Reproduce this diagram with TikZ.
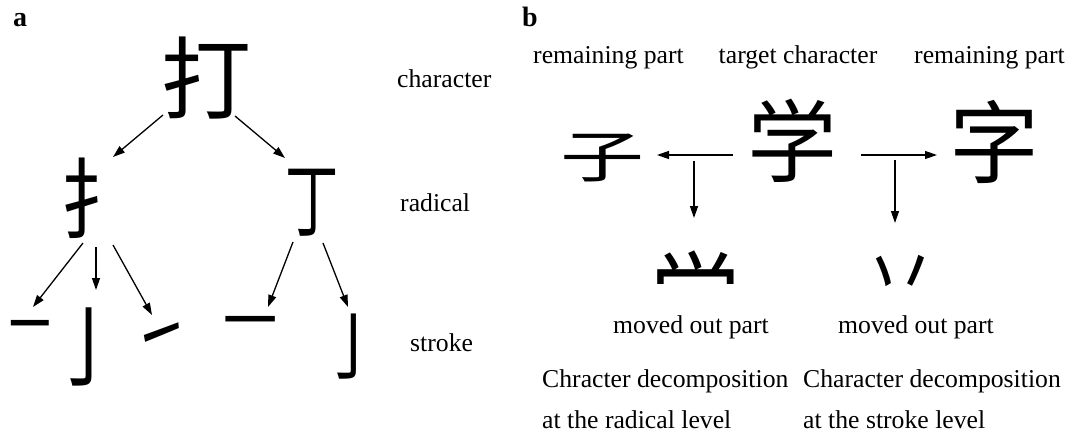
\documentclass[tikz,border=0pt]{standalone}
\usepackage{fontspec}
\usepackage{graphicx}
\setmainfont{Liberation Serif}
\newfontfamily\cjk{Noto Sans CJK SC}
\usetikzlibrary{arrows.meta}
\begin{document}
\begin{tikzpicture}[x=1pt,y=-1pt,
  lab/.style={font=\fontsize{25.7pt}{30pt}\selectfont, inner sep=0pt, anchor=base west},
  panel/.style={font=\bfseries\fontsize{28pt}{32pt}\selectfont, inner sep=0pt, anchor=base west},
  g/.style={inner sep=0pt, font=\cjk\fontsize{#1pt}{#1pt}\selectfont},
  arr/.style={line width=1.3pt, -{Triangle[length=12pt,width=8pt]}},
]
\useasboundingbox (0,0) rectangle (1072,436);
% ---------- panel a ----------
\node[panel] (pa) at (13,27) {a};
\node[g=90] (da) at (206,78) {打};
\node[g=88] (shou) at (98,198) {\scalebox{0.85}[1]{扌}};
\node[g=82] (ding) at (312,203) {\scalebox{0.65}[1]{丁}};
\node[g=90] (s1) at (30,335) {\scalebox{0.46}[0.75]{一}};
\node[g=90] (s2) at (88,347) {\scalebox{0.8}[1]{亅}};
\node[g=62] (s3) at (161,343) {\scalebox{0.9}[1.3]{㇀}};
\node[g=90] (s4) at (250,331) {\scalebox{0.6}[0.75]{一}};
\node[g=75] (s5) at (353,347) {\scalebox{0.85}[1]{亅}};
\node[lab] (lchar) at (397,88) {character};
\node[lab] (lrad) at (400,211) {radical};
\node[lab] (lstr) at (410,351) {stroke};
\draw[arr] ([shift={(-43,37)}]da.center) -- ([shift={(15,-41)}]shou.center);
\draw[arr] ([shift={(29,38)}]da.center) -- ([shift={(-27,-45)}]ding.center);
\draw[arr] ([shift={(-15,45)}]shou.center) -- ([shift={(3,-28)}]s1.center);
\draw[arr] ([shift={(-2,49)}]shou.center) -- ([shift={(8,-57)}]s2.center);
\draw[arr] ([shift={(15,47)}]shou.center) -- ([shift={(-9,-28)}]s3.center);
\draw[arr] ([shift={(-19,39)}]ding.center) -- ([shift={(18,-24)}]s4.center);
\draw[arr] ([shift={(11,40)}]ding.center) -- ([shift={(-5,-40)}]s5.center);
% ---------- panel b ----------
\node[panel] (pb) at (522,27) {b};
\node[lab] (rp1) at (533,64) {remaining part};
\node[lab, anchor=base] (tc) at (798,64) {target character};
\node[lab] (rp2) at (914,64) {remaining part};
\node[g=90] (xue) at (792,141) {学};
\node[g=56] (zi) at (602,158) {\scalebox{1.5}[1]{子}};
\node[g=90] (zi2) at (994,142) {字};
\begin{scope}
  \clip (640,240) rectangle (750,283);
  \node[g=90] (mv1) at (695,301) {\scalebox{1}[1.2]{学}};
\end{scope}
\node[g=80] (mv2) at (900,282) {\scalebox{0.9}[1.2]{丷}};
\coordinate (j1) at (694,161);
\coordinate (j2) at (895,160);
\draw[arr] ([shift={(-59,14)}]xue.center) -- ([shift={(55,-3)}]zi.center);
\draw[arr] (j1) -- ([shift={(-1,-83)}]mv1.center);
\draw[arr] ([shift={(69,14)}]xue.center) -- ([shift={(-57,13)}]zi2.center);
\draw[arr] (j2) -- ([shift={(-5,-59)}]mv2.center);
\node[lab, anchor=base] (mo1) at (691,333) {moved out part};
\node[lab, anchor=base] (mo2) at (916,333) {moved out part};
\node[lab] (cd1) at (542,387) {Chracter decomposition};
\node[lab] (rl1) at (542,428) {at the radical level};
\node[lab] (cd2) at (803,387) {Character decomposition};
\node[lab] (sl2) at (803,428) {at the stroke level};
\end{tikzpicture}
\end{document}
